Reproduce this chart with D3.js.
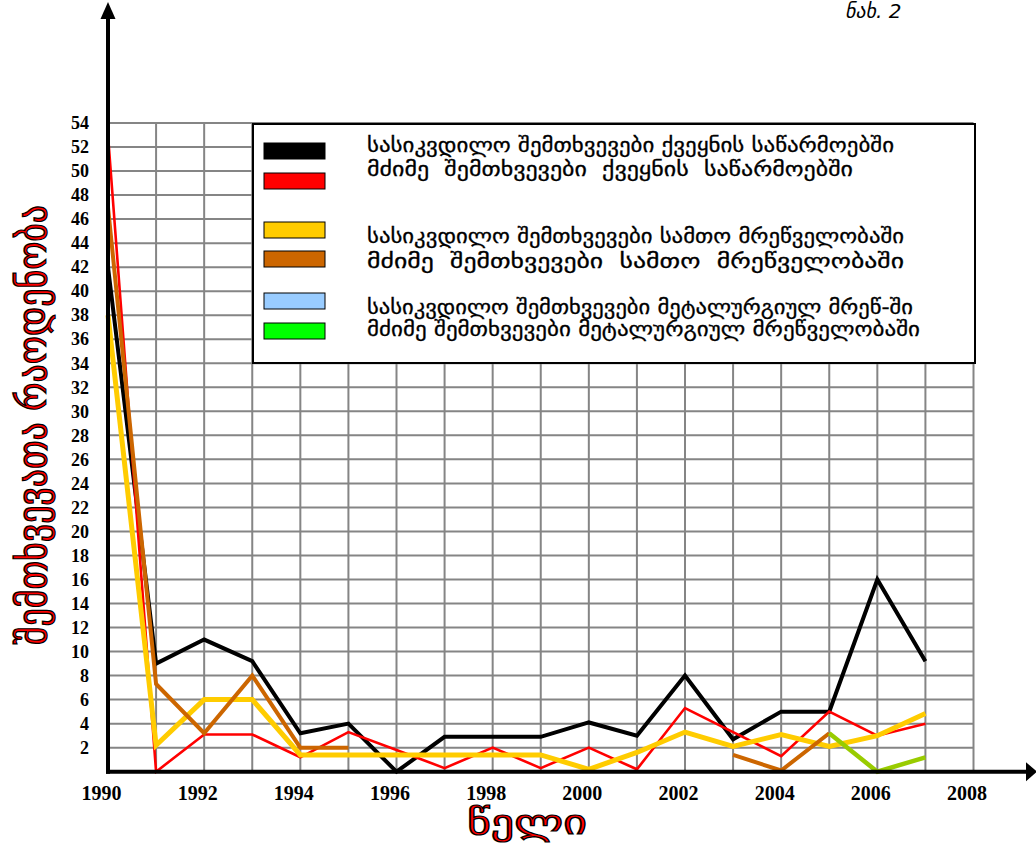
<!DOCTYPE html>
<html>
<head>
<meta charset="utf-8">
<script src="https://cdn.jsdelivr.net/npm/d3@7"></script>
<style>
  html, body { margin: 0; padding: 0; background: #fff; }
  svg { display: block; }
  .geo { font-family: "DejaVu Sans", sans-serif; white-space: pre; }
  .num { font-family: "Liberation Serif", "Times New Roman", serif; font-weight: bold; }
</style>
</head>
<body>
<svg id="chart" width="1036" height="849"></svg>
<script>
// ---- data ----
const years = [1990, 1991, 1992, 1993, 1994, 1995, 1996, 1997, 1998, 1999,
               2000, 2001, 2002, 2003, 2004, 2005, 2006, 2007];

const fatalCountry  = [42, 9, 11, 9.2, 3.2, 4, 0, 2.9, 2.9, 2.9, 4.1, 3, 8, 2.7, 5, 5, 16, 9.2];
const severeCountry = [53, 0, 3.1, 3.1, 1.2, 3.3, 1.8, 0.3, 2, 0.3, 2, 0.2, 5.3, 3.3, 1.3, 5, 3, 4];
const fatalMining   = [38, 2.2, 6, 6, 1.4, 1.4, 1.4, 1.4, 1.4, 1.4, 0.2, 1.6, 3.3, 2.1, 3.1, 2.1, 3, 4.85];
const severeMining  = [47, 7.3, 3.2, 8, 2, 2, null, null, null, null, null, null, null, 1.4, 0.1, 3.2, null, null];
const fatalMetal    = [null, null, null, null, null, null, null, null, null, null, null, null, null, null, null, null, null, null];
const severeMetal   = [null, null, null, null, null, null, null, null, null, null, null, null, null, null, null, 3.2, 0, 1.2];

const seriesLabels = [
  "სასიკვდილო შემთხვევები ქვეყნის საწარმოებში",
  "მძიმე  შემთხვევები  ქვეყნის  საწარმოებში",
  "სასიკვდილო შემთხვევები სამთო მრეწველობაში",
  "მძიმე  შემთხვევები  სამთო  მრეწველობაში",
  "სასიკვდილო შემთხვევები მეტალურგიულ მრეწ-ში",
  "მძიმე შემთხვევები მეტალურგიულ მრეწველობაში"
];

const xTickYears = [1990, 1992, 1994, 1996, 1998, 2000, 2002, 2004, 2006, 2008];
const yTickValues = [2, 4, 6, 8, 10, 12, 14, 16, 18, 20, 22, 24, 26, 28, 30, 32, 34, 36,
                     38, 40, 42, 44, 46, 48, 50, 52, 54];

const yTitle = "შემთხვევათა რაოდენობა";
const xTitle = "წელი";
const figLabel = "ნახ. 2";

// ---- styling ----
const lineColors   = ["#000000", "#ff0000", "#ffcc00", "#cc6600", "#99ccff", "#99cc00"];
const swatchColors = ["#000000", "#ff0000", "#ffcc00", "#cc6600", "#99ccff", "#00ff00"];
const lineWidths   = [4, 2.6, 5, 4, 4, 4.5];

const allSeries = [fatalCountry, severeCountry, fatalMining, severeMining, fatalMetal, severeMetal];

const svg = d3.select("#chart");

const x = d3.scaleLinear().domain([1990, 2008]).range([108, 973.5]);
const y = d3.scaleLinear().domain([0, 54]).range([771.7, 123]);

// ---- grid ----
const grid = svg.append("g").attr("stroke", "#858585").attr("stroke-width", 2);
grid.selectAll("line.h").data(yTickValues).join("line")
  .attr("class", "h")
  .attr("x1", x(1990)).attr("x2", x(2008))
  .attr("y1", d => y(d)).attr("y2", d => y(d));
grid.selectAll("line.v").data(years.slice(1).concat([2008])).join("line")
  .attr("class", "v")
  .attr("x1", d => x(d)).attr("x2", d => x(d))
  .attr("y1", y(54)).attr("y2", y(0));

// ---- legend ----
const legend = svg.append("g");
legend.append("rect")
  .attr("x", 253).attr("y", 124).attr("width", 722).attr("height", 239)
  .attr("fill", "#fff").attr("stroke", "#000").attr("stroke-width", 2);

const swatchTops = [143, 173, 222, 251, 293, 323];
const textMids   = [145, 168.5, 236, 261, 306.5, 328.5];
const textWidths = [527, 486, 537, 537, 546, 553];

legend.selectAll("rect.sw").data(swatchColors).join("rect")
  .attr("class", "sw")
  .attr("x", 264).attr("y", (d, i) => swatchTops[i])
  .attr("width", 61).attr("height", 16)
  .attr("fill", d => d).attr("stroke", "#000").attr("stroke-width", 1);

legend.selectAll("text").data(seriesLabels).join("text")
  .attr("class", "geo")
  .attr("x", 367).attr("y", (d, i) => textMids[i] + 7)
  .attr("font-size", 20)
  .attr("textLength", (d, i) => textWidths[i])
  .attr("lengthAdjust", "spacingAndGlyphs")
  .attr("stroke", "#000").attr("stroke-width", 0.3)
  .text(d => d);

// ---- series ----
const line = d3.line()
  .defined(d => d.v !== null)
  .x(d => x(d.year))
  .y(d => y(d.v));

allSeries.forEach((vals, i) => {
  const pts = years.map((yr, k) => ({ year: yr, v: vals[k] }));
  svg.append("path")
    .datum(pts)
    .attr("fill", "none")
    .attr("stroke", lineColors[i])
    .attr("stroke-width", lineWidths[i])
    .attr("stroke-linejoin", "miter")
    .attr("d", line);
});

// ---- axes ----
const yAxis = svg.append("g")
  .attr("transform", `translate(${x(1990)},0)`)
  .call(d3.axisLeft(y).tickValues(yTickValues).tickSize(0).tickPadding(19));
yAxis.select(".domain").remove();
yAxis.selectAll("text").attr("class", "num").attr("font-size", 18).attr("fill", "#000");

const xAxis = svg.append("g")
  .attr("transform", `translate(0,${y(0)})`)
  .call(d3.axisBottom(x).tickValues(xTickYears).tickFormat(d3.format("d")).tickSize(0).tickPadding(14));
xAxis.select(".domain").remove();
xAxis.selectAll("text").attr("class", "num").attr("font-size", 20).attr("fill", "#000")
  .attr("dx", -7);

// axis lines with arrows
svg.append("line")
  .attr("x1", x(1990)).attr("x2", x(1990))
  .attr("y1", y(0) + 2).attr("y2", 16)
  .attr("stroke", "#000").attr("stroke-width", 4);
svg.append("path")
  .attr("d", `M${x(1990)},2 L${x(1990) - 7.5},19 L${x(1990) + 7.5},19 Z`)
  .attr("fill", "#000");
svg.append("line")
  .attr("x1", x(1990) - 2).attr("x2", 1030)
  .attr("y1", y(0)).attr("y2", y(0))
  .attr("stroke", "#000").attr("stroke-width", 4);
svg.append("path")
  .attr("d", `M1037,${y(0)} L1026,${y(0) - 9.5} L1026,${y(0) + 9.5} Z`)
  .attr("fill", "#000");

// ---- titles ----
svg.append("text")
  .attr("class", "geo")
  .attr("transform", "translate(46,425) rotate(-90)")
  .attr("text-anchor", "middle")
  .attr("font-size", 40)
  .attr("textLength", 440)
  .attr("lengthAdjust", "spacingAndGlyphs")
  .attr("fill", "#ff0000").attr("stroke", "#000").attr("stroke-width", 1.3)
  .text(yTitle);

svg.append("text")
  .attr("class", "geo")
  .attr("x", 467).attr("y", 834)
  .attr("font-size", 34)
  .attr("textLength", 120)
  .attr("lengthAdjust", "spacingAndGlyphs")
  .attr("fill", "#ff0000").attr("stroke", "#000").attr("stroke-width", 1.2)
  .text(xTitle);

svg.append("text")
  .attr("class", "geo")
  .attr("x", 845).attr("y", 18)
  .attr("font-size", 20)
  .attr("font-style", "italic")
  .attr("fill", "#000")
  .text(figLabel);
</script>
</body>
</html>
